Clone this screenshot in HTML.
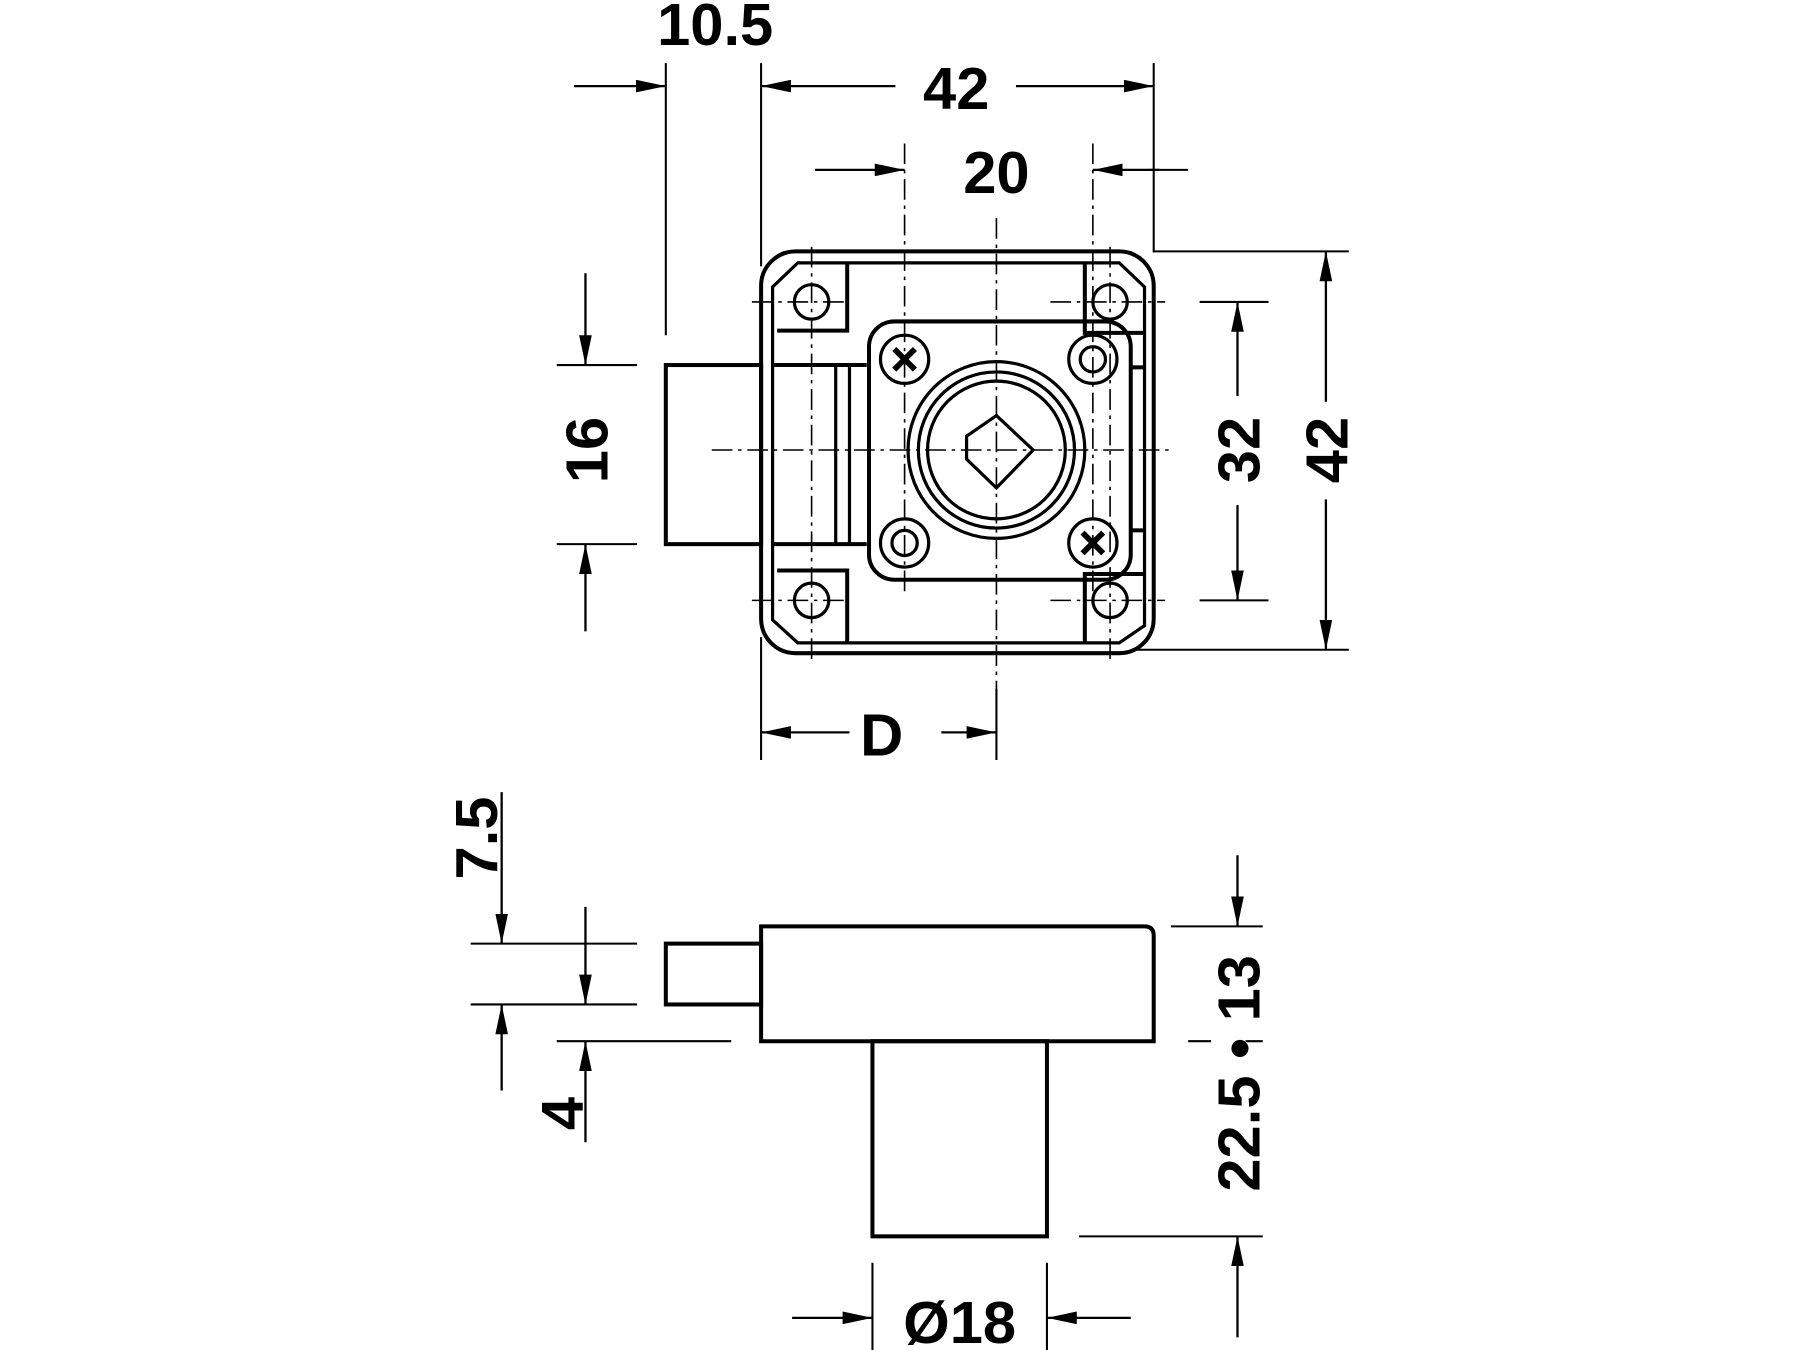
<!DOCTYPE html>
<html><head><meta charset="utf-8"><style>html,body{margin:0;padding:0;background:#fff}svg{display:block}</style></head>
<body>
<svg width="1800" height="1350" viewBox="0 0 1568 1176" preserveAspectRatio="none" xmlns="http://www.w3.org/2000/svg">
<defs>
<marker id="a" viewBox="0 0 26 11" refX="26" refY="5.5" markerWidth="26" markerHeight="11" markerUnits="userSpaceOnUse" orient="auto"><path d="M0,0 L26,5.5 L0,11 Z" fill="#000"/></marker>
</defs>
<g stroke="#000" fill="none">
<g stroke-width="1.4" stroke-dasharray="18,5,3,5">
<line x1="868" y1="190" x2="868" y2="660"/>
<line x1="620" y1="392" x2="1022" y2="392"/>
<line x1="707" y1="215" x2="707" y2="578"/>
<line x1="967" y1="215" x2="967" y2="578"/>
<line x1="655" y1="263" x2="740" y2="263"/>
<line x1="915" y1="263" x2="1015" y2="263"/>
<line x1="655" y1="523" x2="740" y2="523"/>
<line x1="915" y1="523" x2="1015" y2="523"/>
<line x1="788" y1="125" x2="788" y2="520"/>
<line x1="952" y1="125" x2="952" y2="520"/>
</g>
<g stroke-width="3.5">
<rect x="663" y="219" width="342" height="350" rx="30"/>
<path d="M695,229 H975 L997,250 V545 L975,560 H695 L673,540 V250 Z" stroke-width="2.8"/>
<rect x="580" y="318" width="83" height="156"/>
<line x1="673" y1="318" x2="755" y2="318"/>
<line x1="673" y1="474" x2="755" y2="474"/>
<line x1="728" y1="318" x2="728" y2="474" stroke-width="2.8"/>
<line x1="740" y1="318" x2="740" y2="474" stroke-width="2.8"/>
<path d="M677,288 H738 V230"/>
<path d="M677,497 H738 V560"/>
<path d="M945,230 V290 H997"/>
<path d="M945,560 V500 H997"/>
<rect x="757" y="280" width="228" height="225" rx="22"/>
<line x1="985" y1="320" x2="998" y2="320"/>
<line x1="985" y1="462" x2="998" y2="462"/>
</g>
<g stroke-width="2.8">
<circle cx="707" cy="263" r="15"/><circle cx="967" cy="263" r="15"/>
<circle cx="707" cy="523" r="15"/><circle cx="967" cy="523" r="15"/>
<circle cx="788" cy="313" r="21"/><circle cx="952" cy="313" r="21"/><circle cx="952" cy="313" r="11"/>
<circle cx="788" cy="473" r="21"/><circle cx="788" cy="473" r="11"/><circle cx="952" cy="473" r="21"/>
<path d="M779,304 l18,18 M797,304 l-18,18" stroke-width="5"/>
<path d="M943,464 l18,18 M961,464 l-18,18" stroke-width="5"/>
<circle cx="868" cy="392" r="77"/>
<circle cx="868" cy="392" r="68"/>
<circle cx="868" cy="392" r="60"/>
<path d="M868,362 L900,392 L868,425 L842,400 V380 Z"/>
</g>
<g stroke-width="3.5">
<path d="M663,807 H997 Q1005,807 1005,815 V907 H663 Z"/>
<rect x="580" y="822" width="83" height="53"/>
<rect x="760" y="907" width="152" height="170"/>
</g>
<g stroke-width="1.8">
<line x1="580" y1="55" x2="580" y2="292"/>
<line x1="663" y1="55" x2="663" y2="232"/>
<line x1="1005" y1="55" x2="1005" y2="220"/>
<line x1="1005" y1="219" x2="1175" y2="219"/>
<line x1="990" y1="566" x2="1175" y2="566"/>
<line x1="1045" y1="263" x2="1105" y2="263"/>
<line x1="1045" y1="523" x2="1105" y2="523"/>
<line x1="485" y1="318" x2="555" y2="318"/>
<line x1="485" y1="474" x2="555" y2="474"/>
<line x1="663" y1="555" x2="663" y2="662"/>
<line x1="868" y1="600" x2="868" y2="662"/>
<line x1="410" y1="822" x2="555" y2="822"/>
<line x1="410" y1="875" x2="555" y2="875"/>
<line x1="485" y1="907" x2="637" y2="907"/>
<line x1="1020" y1="807" x2="1100" y2="807"/>
<line x1="1035" y1="907" x2="1055" y2="907"/>
<line x1="1085" y1="907" x2="1100" y2="907"/>
<line x1="940" y1="1077" x2="1100" y2="1077"/>
<line x1="760" y1="1100" x2="760" y2="1176"/>
<line x1="912" y1="1100" x2="912" y2="1176"/>
<line x1="1000" y1="148" x2="1035" y2="148"/>
</g>
<g stroke-width="2" marker-end="url(#a)">
<line x1="500" y1="75" x2="580" y2="75"/>
<line x1="780" y1="75" x2="663" y2="75"/>
<line x1="885" y1="75" x2="1005" y2="75"/>
<line x1="710" y1="148" x2="788" y2="148"/>
<line x1="1010" y1="148" x2="952" y2="148"/>
<line x1="510" y1="238" x2="510" y2="318"/>
<line x1="510" y1="550" x2="510" y2="474"/>
<line x1="1078" y1="345" x2="1078" y2="263"/>
<line x1="1078" y1="440" x2="1078" y2="523"/>
<line x1="1155" y1="350" x2="1155" y2="219"/>
<line x1="1155" y1="435" x2="1155" y2="566"/>
<line x1="740" y1="638" x2="663" y2="638"/>
<line x1="820" y1="638" x2="868" y2="638"/>
<line x1="437" y1="690" x2="437" y2="822"/>
<line x1="437" y1="950" x2="437" y2="875"/>
<line x1="510" y1="790" x2="510" y2="875"/>
<line x1="510" y1="995" x2="510" y2="907"/>
<line x1="1078" y1="745" x2="1078" y2="807"/>
<line x1="1078" y1="1165" x2="1078" y2="1077"/>
<line x1="690" y1="1148" x2="760" y2="1148"/>
<line x1="985" y1="1148" x2="912" y2="1148"/>
</g>
</g>
<g font-family="Liberation Sans, sans-serif" font-weight="bold" font-size="52" fill="#000" text-anchor="middle">
<text x="623" y="39">10.5</text>
<text x="833" y="95">42</text>
<text x="868" y="168">20</text>
<text x="768" y="658">D</text>
<text x="836" y="1170">Ø18</text>
<text transform="translate(529,392) rotate(-90)">16</text>
<text transform="translate(1097,392) rotate(-90)">32</text>
<text transform="translate(1174,392) rotate(-90)">42</text>
<text transform="translate(433,730) rotate(-90)">7.5</text>
<text transform="translate(508,970) rotate(-90)">4</text>
<text transform="translate(1097,935) rotate(-90)">22.5 • 13</text>
</g>
</svg>
</body></html>
